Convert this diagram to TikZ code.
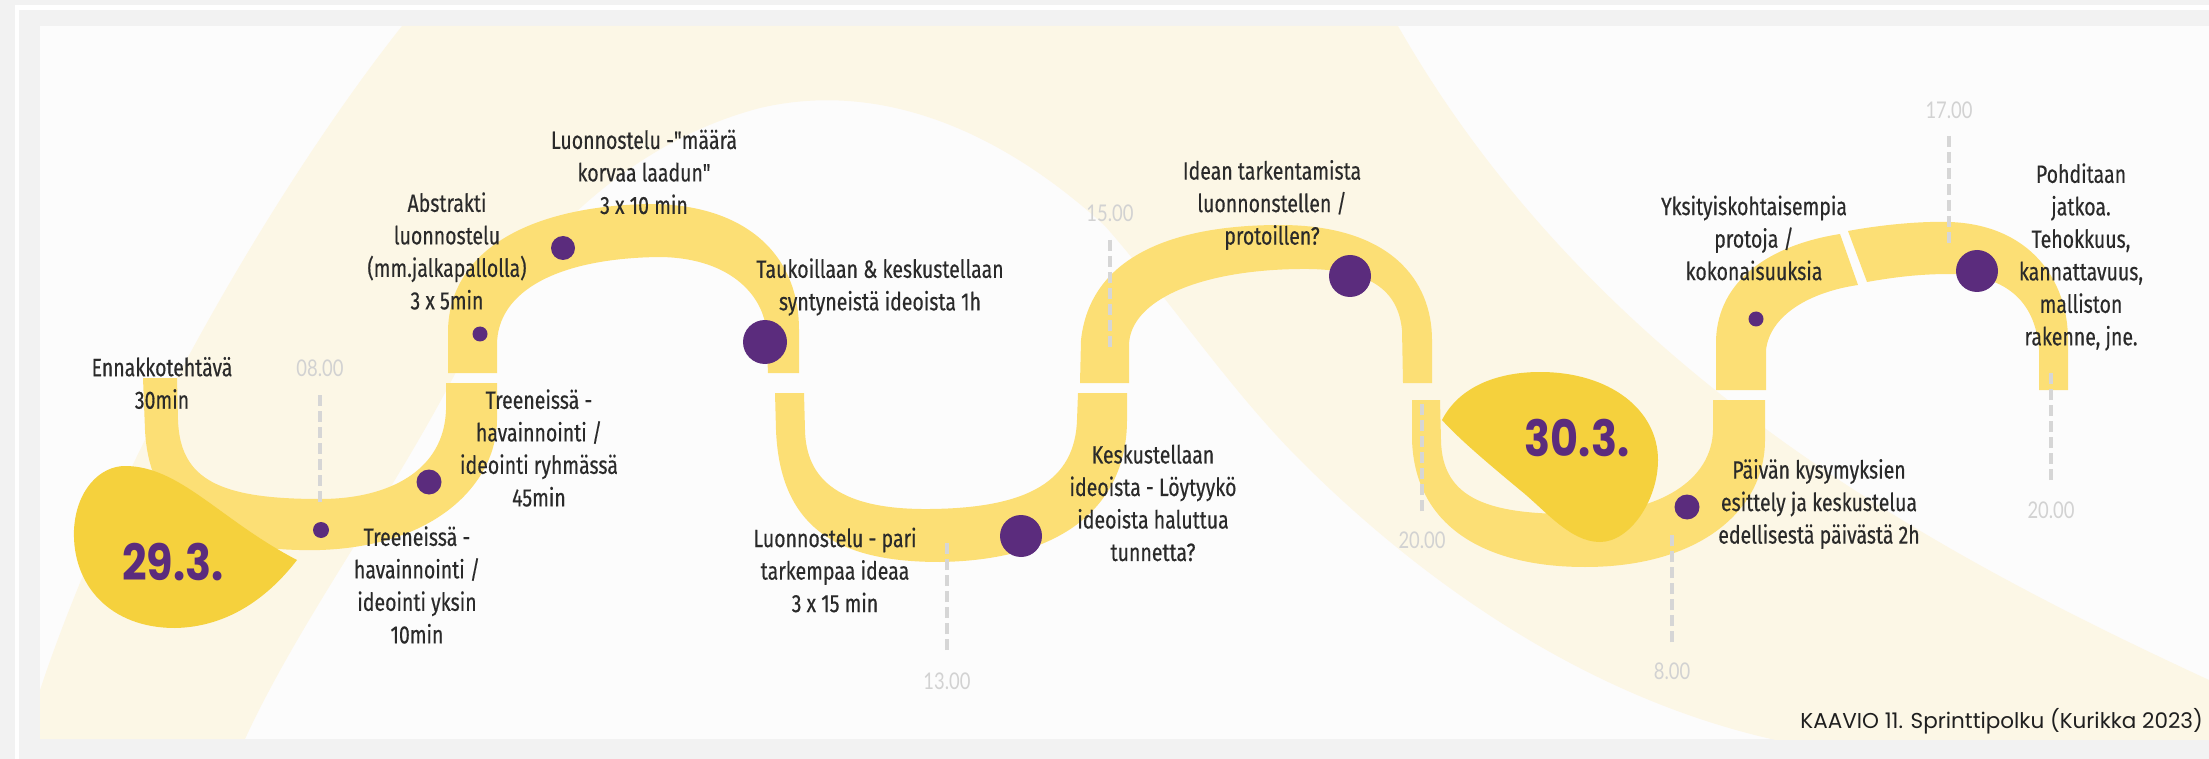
\documentclass[tikz,border=0pt]{standalone}
\usepackage{fontspec}
\newfontfamily\handfont[FakeStretch=0.78,FakeBold=0.4]{Fira Sans}
\newfontfamily\hourfont[FakeStretch=0.8]{Lato}
\newfontfamily\datefont[FakeStretch=0.86]{Poppins}
\newfontfamily\capfont{Poppins}
\definecolor{framegray}{HTML}{F2F2F2}
\definecolor{paper}{HTML}{FCFCFC}
\definecolor{cream}{HTML}{FCF7E6}
\definecolor{bandyellow}{HTML}{FCDF75}
\definecolor{blobyellow}{HTML}{F5D13D}
\definecolor{plum}{HTML}{5B2C7D}
\definecolor{labeltext}{HTML}{2A2A2A}
\definecolor{hourgray}{HTML}{D2D2D2}
\definecolor{tickgray}{HTML}{D6D6D6}
\begin{document}
\begin{tikzpicture}[x=1pt,y=-1pt,
  lbl/.style={font=\handfont\fontsize{25}{32.5}\selectfont, text=labeltext, align=center, inner sep=0pt},
  hour/.style={font=\hourfont\fontsize{23}{23}\selectfont, text=hourgray, inner sep=0pt},
  tick/.style={draw=tickgray, line width=4.5pt, dash pattern=on 11pt off 5pt},
  spot/.style={circle, fill=plum, inner sep=0pt, minimum size=#1},
  datelbl/.style={font=\datefont\bfseries\fontsize{50}{50}\selectfont, text=plum, inner sep=0pt},
  band/.style={fill=bandyellow},
  blob/.style={fill=blobyellow}]
\useasboundingbox (0,0) rectangle (2209,759);

% frame
\fill[framegray] (0,0) rectangle (2209,759);
\fill[white] (15,5) rectangle (2209,10);
\fill[white] (15,5) rectangle (19,759);
\fill[paper] (40,26) rectangle (2209,739);

% pale sweep in the background
\begin{scope}
\clip (40,26) rectangle (2209,739);
\fill[cream] (402,26) .. controls (280,180) and (120,450) .. (40,690)
  -- (40,739) -- (245,739)
  .. controls (300,620) and (390,500) .. (456,372)
  .. controls (500,285) and (600,150) .. (760,108)
  .. controls (880,80) and (1000,130) .. (1105,226)
  .. controls (1170,300) and (1230,390) .. (1300,460)
  .. controls (1380,540) and (1560,700) .. (1800,745)
  -- (2209,745) -- (2209,680)
  .. controls (1950,560) and (1600,380) .. (1398,26) -- cycle;
\end{scope}

% path segments
\fill[band] (143,378) -- (145,430) .. controls (150,530) and (230,552) .. (320,550)
  .. controls (440,546) and (497,480) .. (497,420) -- (497,383) -- (446,383) -- (446,410)
  .. controls (444,470) and (390,499) .. (320,499)
  .. controls (220,499) and (180,480) .. (178,420) -- (177,378) -- cycle;
\fill[band] (448,373) -- (448,330) .. controls (450,250) and (530,206) .. (650,204)
  .. controls (740,204) and (799,250) .. (799,330) -- (799,373) -- (768,373) -- (766,330)
  .. controls (764,300) and (735,258) .. (660,257)
  .. controls (560,258) and (497,290) .. (497,345) -- (497,373) -- cycle;
\fill[band] (775,393) -- (776,430) .. controls (780,530) and (840,562) .. (940,562)
  .. controls (1070,560) and (1127,500) .. (1127,420) -- (1127,393) -- (1078,393) -- (1077,420)
  .. controls (1075,480) and (1030,508) .. (930,509)
  .. controls (840,510) and (806,480) .. (805,430) -- (804,393) -- cycle;
\fill[band] (1080,383) -- (1081,340) .. controls (1090,258) and (1170,225) .. (1280,225)
  .. controls (1390,225) and (1432,280) .. (1432,340) -- (1432,383) -- (1403,383) -- (1402,330)
  .. controls (1398,290) and (1370,268) .. (1300,269)
  .. controls (1200,270) and (1130,300) .. (1129,345) -- (1129,383) -- cycle;
\fill[band] (1412,400) -- (1412,440) .. controls (1415,530) and (1490,567) .. (1585,567)
  .. controls (1700,567) and (1765,510) .. (1765,440) -- (1765,400) -- (1713,400) -- (1713,430)
  .. controls (1712,480) and (1660,513) .. (1580,514)
  .. controls (1490,515) and (1442,500) .. (1441,440) -- (1440,400) -- cycle;
\fill[band] (1716,390) -- (1716,340) .. controls (1718,280) and (1770,245) .. (1840,234)
  -- (1858,285) .. controls (1810,292) and (1770,315) .. (1766,350) -- (1766,390) -- cycle;
\fill[band] (1848,231) .. controls (1880,225) and (1920,221) .. (1950,222)
  .. controls (2030,225) and (2068,280) .. (2068,340) -- (2068,390) -- (2039,390) -- (2039,350)
  .. controls (2036,305) and (2010,275) .. (1950,274)
  .. controls (1920,274) and (1895,277) .. (1867,282) -- cycle;

% day markers
\fill[blob] (297,560) .. controls (270,595) and (230,627) .. (175,628)
  .. controls (110,628) and (72,585) .. (74,530)
  .. controls (76,490) and (100,466) .. (125,466)
  .. controls (180,466) and (220,520) .. (297,560) -- cycle;
\fill[blob] (1442,420) .. controls (1460,385) and (1500,372) .. (1540,372)
  .. controls (1610,372) and (1658,410) .. (1658,460)
  .. controls (1658,500) and (1630,542) .. (1600,542)
  .. controls (1570,542) and (1545,510) .. (1520,490)
  .. controls (1490,465) and (1460,440) .. (1442,420) -- cycle;
\node[datelbl] (day1) at (173,562) {29.3.};
\node[datelbl] (day2) at (1577,438) {30.3.};

% hour marks
\node[hour] (h1) at (320,368) {08.00};
\node[hour] (h2) at (1110,213) {15.00};
\node[hour] (h3) at (947,681) {13.00};
\node[hour] (h4) at (1422,540) {20.00};
\node[hour] (h5) at (1672,671) {8.00};
\node[hour] (h6) at (1949,110) {17.00};
\node[hour] (h7) at (2051,510) {20.00};
\coordinate (h1a) at (320,395);  \coordinate (h1b) at (320,504);
\coordinate (h2a) at (1110,240); \coordinate (h2b) at (1110,349);
\coordinate (h3a) at (947,650);  \coordinate (h3b) at (947,540);
\coordinate (h4a) at (1422,511); \coordinate (h4b) at (1422,400);
\coordinate (h5a) at (1672,642); \coordinate (h5b) at (1672,531);
\coordinate (h6a) at (1949,136); \coordinate (h6b) at (1949,245);
\coordinate (h7a) at (2051,480); \coordinate (h7b) at (2051,371);
\foreach \k in {1,...,7} \draw[tick] (h\k a) -- (h\k b);

% stops along the path
\node[spot=16pt] (s1) at (321,530) {};
\node[spot=25pt] (s2) at (429,482) {};
\node[spot=15pt] (s3) at (480,334) {};
\node[spot=24pt] (s4) at (563,248) {};
\node[spot=44pt] (s5) at (765,342) {};
\node[spot=42pt] (s6) at (1021,536) {};
\node[spot=42pt] (s7) at (1350,276) {};
\node[spot=25pt] (s8) at (1687,507) {};
\node[spot=15pt] (s9) at (1756,319) {};
\node[spot=42pt] (s10) at (1977,271) {};

% descriptions
\node[lbl] (t1) at (162,383) {Ennakkotehtävä\\30min};
\node[lbl] (t2) at (417,585) {Treeneissä -\\havainnointi /\\ideointi yksin\\10min};
\node[lbl] (t3) at (539,448) {Treeneissä -\\havainnointi /\\ideointi ryhmässä\\45min};
\node[lbl] (t4) at (447,251) {Abstrakti\\luonnostelu\\(mm.jalkapallolla)\\3 x 5min};
\node[lbl] (t5) at (644,172) {Luonnostelu -"määrä\\korvaa laadun"\\3 x 10 min};
\node[lbl] (t6) at (880,287) {Taukoillaan \& keskustellaan\\syntyneistä ideoista 1h};
\node[lbl] (t7) at (835,570) {Luonnostelu - pari\\tarkempaa ideaa\\3 x 15 min};
\node[lbl] (t8) at (1153,503) {Keskustellaan\\ideoista - Löytyykö\\ideoista haluttua\\tunnetta?};
\node[lbl] (t9) at (1272,205) {Idean tarkentamista\\luonnonstellen /\\protoillen?};
\node[lbl] (t10) at (1754,238) {Yksityiskohtaisempia\\protoja /\\kokonaisuuksia};
\node[lbl] (t11) at (1819,504) {Päivän kysymyksien\\esittely ja keskustelua\\edellisestä päivästä 2h};
\node[lbl] (t12) at (2081,257) {Pohditaan\\jatkoa.\\Tehokkuus,\\kannattavuus,\\malliston\\rakenne, jne.};

% caption
\node[font=\capfont\fontsize{21.5}{21.5}\selectfont, text=black!88, anchor=base east, inner sep=0pt] (cap) at (2203,728) {KAAVIO 11. Sprinttipolku (Kurikka 2023)};
\end{tikzpicture}
\end{document}
